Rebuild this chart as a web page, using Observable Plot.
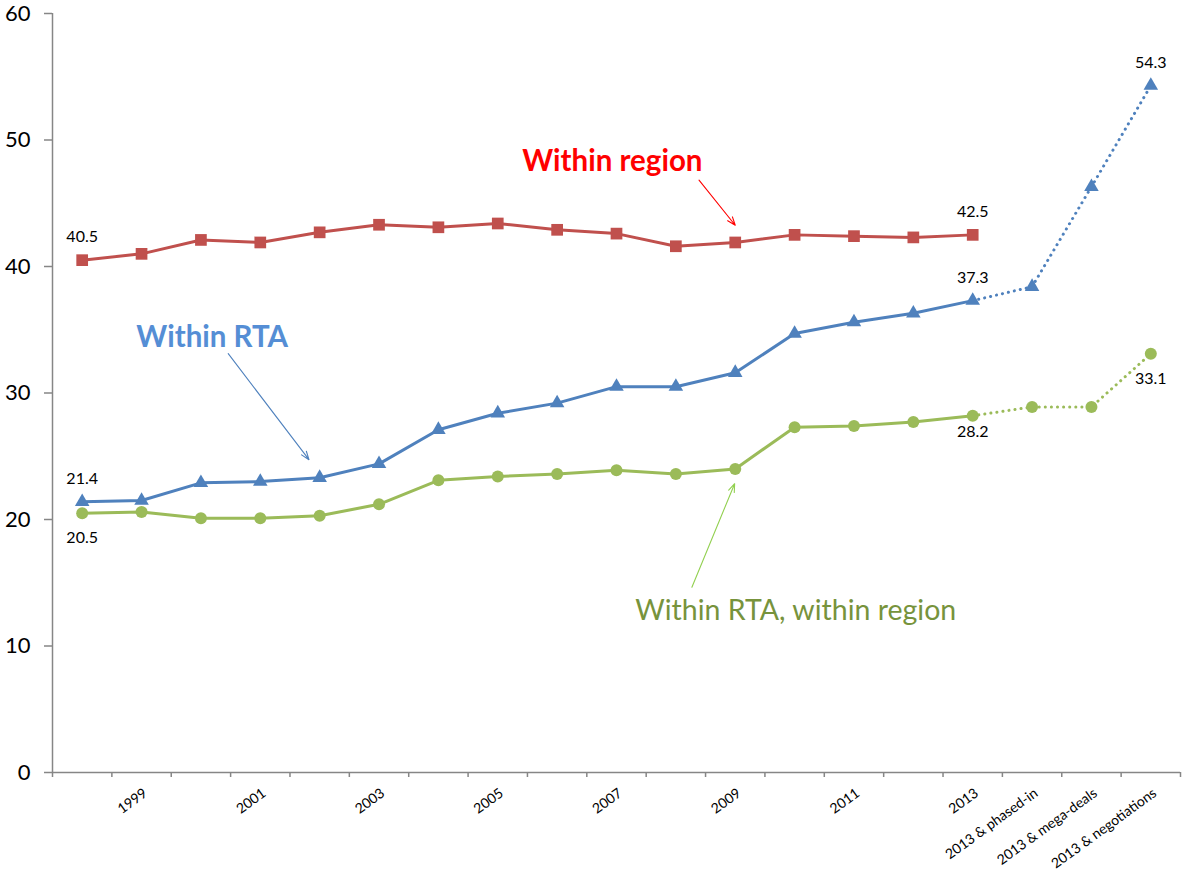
<!DOCTYPE html>
<html><head><meta charset="utf-8">
<script src="https://cdn.jsdelivr.net/npm/d3@7"></script>
<script src="https://cdn.jsdelivr.net/npm/@observablehq/plot@0.6"></script>
<style>body{margin:0;background:#fff;font-family:Lato,sans-serif}</style>
</head><body><div id="chart"></div>
<script>
// ---- data ----
const categories = ["1998","1999","2000","2001","2002","2003","2004","2005","2006","2007","2008","2009","2010","2011","2012","2013","2013 & phased-in","2013 & mega-deals","2013 & negotiations"];
const shownTickLabels = ["1999","2001","2003","2005","2007","2009","2011","2013","2013 & phased-in","2013 & mega-deals","2013 & negotiations"];
const withinRegion = [40.5,41.0,42.1,41.9,42.7,43.3,43.1,43.4,42.9,42.6,41.6,41.9,42.5,42.4,42.3,42.5];
const withinRTA = [21.4,21.5,22.9,23.0,23.3,24.4,27.1,28.4,29.2,30.5,30.5,31.6,34.7,35.6,36.3,37.3,38.4,46.3,54.3];
const withinRTARegion = [20.5,20.6,20.1,20.1,20.3,21.2,23.1,23.4,23.6,23.9,23.6,24.0,27.3,27.4,27.7,28.2,28.9,28.9,33.1];
const yTicks = [0,10,20,30,40,50,60];
const lastActual = "2013";
// value labels: [category, series, position]
const valueLabels = [
  ["1998","region","above"],["2013","region","above"],
  ["1998","rta","above"],["2013","rta","above"],["2013 & negotiations","rta","above"],
  ["1998","both","below"],["2013","both","belowNear"],["2013 & negotiations","both","below"]
];
// annotations (category-index / value coordinates)
const annotations = [
  {text:"Within region", x:8.93, y:47.55, color:"#FF0000", weight:"bold", size:29.5},
  {text:"Within RTA", x:2.19, y:33.63, color:"#558ED5", weight:"bold", size:29.5},
  {text:"Within RTA, within region", x:12.02, y:12.02, color:"#77933C", weight:"normal", size:28.5}
];
const arrows = [
  {x1:10.39, y1:46.83, x2:11.0, y2:43.26, color:"#FF0000"},
  {x1:2.46, y1:33.11, x2:3.82, y2:24.73, color:"#4F81BD"},
  {x1:10.27, y1:14.65, x2:10.99, y2:22.83, color:"#92D050"}
];

// ---- build ----
const colors = {region:"#C0504D", rta:"#4F81BD", both:"#9BBB59"};
const seriesVals = {region: withinRegion, rta: withinRTA, both: withinRTARegion};
const labelOffsets = {above:-23, below:25, belowNear:16};
const cut = categories.indexOf(lastActual);
const rows = s => seriesVals[s].map((v,i)=>({i, v, s}));
const solid = s => rows(s).filter(d => d.i <= cut);
const dotted = s => rows(s).filter(d => d.i >= cut);
const labelRows = valueLabels.map(([c,s,pos]) => {
  const i = categories.indexOf(c);
  const v = seriesVals[s][i];
  return {i, v, text: v.toFixed(1), pos};
});
const tickRows = shownTickLabels.map(c => ({i: categories.indexOf(c), text: c}));

const lineMarks = [];
for (const s of ["region","rta","both"]) {
  lineMarks.push(Plot.line(solid(s), {x:"i", y:"v", stroke:colors[s], strokeWidth:3}));
  const d = dotted(s);
  if (d.length > 1) lineMarks.push(Plot.line(d, {x:"i", y:"v", stroke:colors[s], strokeWidth:3, strokeDasharray:"0.1,6", strokeLinecap:"round"}));
}
const labelMarks = Object.entries(labelOffsets).map(([pos, dy]) =>
  Plot.text(labelRows.filter(d => d.pos === pos), {x:"i", y:"v", text:"text", dy, fontSize:16, fill:"#000"}));

const chart = Plot.plot({
  width:1182, height:877,
  marginLeft:52, marginRight:2, marginTop:13, marginBottom:105,
  style:{fontFamily:"Lato, sans-serif", background:"#fff", color:"#000", overflow:"visible"},
  x:{type:"linear", domain:[-0.5, categories.length-0.5]},
  y:{domain:[0,60]},
  marks:[
    Plot.axisY({ticks:yTicks, tickSize:8, tickPadding:14, fontSize:22, label:null, tickFormat:d=>String(d)}),
    Plot.axisX({ticks:d3.range(categories.length+1).map(k=>k-0.5), tickSize:5, tickFormat:()=>"", label:null}),
    Plot.ruleY([0], {stroke:"#868686", strokeWidth:1.5}),
    Plot.ruleX([-0.5], {y1:0, y2:60, stroke:"#868686", strokeWidth:1.5}),
    Plot.text(tickRows, {x:"i", y:()=>0, text:"text", rotate:-36, textAnchor:"end", lineAnchor:"middle", dx:4, dy:19, fontSize:14, fill:"#000"}),
    ...lineMarks,
    Plot.dot(rows("region"), {x:"i", y:"v", symbol:"square", r:6.6, fill:colors.region, stroke:null}),
    Plot.dot(rows("rta"), {x:"i", y:"v", symbol:"triangle", r:5.4, fill:colors.rta, stroke:null}),
    Plot.dot(rows("both"), {x:"i", y:"v", symbol:"circle", r:6, fill:colors.both, stroke:null}),
    ...labelMarks,
    ...annotations.map(a => Plot.text([a], {x:"x", y:"y", text:"text", fill:a.color, fontWeight:a.weight, fontSize:a.size, lineAnchor:"bottom", textAnchor:"middle"})),
    ...arrows.map(a => Plot.arrow([a], {x1:"x1", y1:"y1", x2:"x2", y2:"y2", stroke:a.color, strokeWidth:1.1, headLength:12, headAngle:40}))
  ]
});
document.getElementById("chart").appendChild(chart);
// style tweaks: gray axis ticks
d3.select(chart).selectAll('g[aria-label="y-axis tick"], g[aria-label="x-axis tick"]').attr("stroke","#868686").attr("stroke-width",1.5);
</script>
</body></html>
